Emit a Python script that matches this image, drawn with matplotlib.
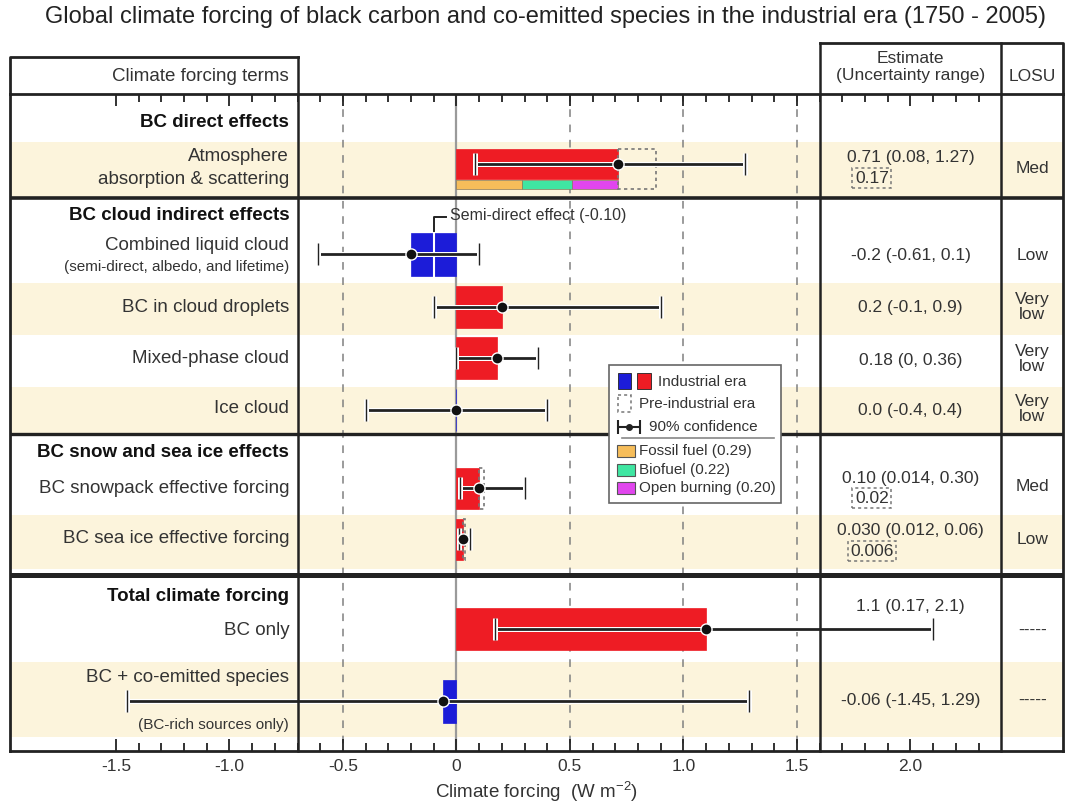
import matplotlib.pyplot as plt
import matplotlib.patheffects as pe
from matplotlib.patches import Rectangle
import numpy as np

plt.rcParams['font.family'] = ['Liberation Sans', 'DejaVu Sans']
plt.rcParams['mathtext.default'] = 'regular'

# Forcing terms, industrial era (W m-2)
terms = ["Atmosphere\nabsorption & scattering", "Combined liquid cloud", "BC in cloud droplets",
         "Mixed-phase cloud", "Ice cloud", "BC snowpack effective forcing",
         "BC sea ice effective forcing", "BC only", "BC + co-emitted species"]
sublabels = ["", "(semi-direct, albedo, and lifetime)", "", "", "", "", "", "",
             "(BC-rich sources only)"]
best = [0.71, -0.2, 0.2, 0.18, 0.0, 0.10, 0.030, 1.1, -0.06]
low = [0.08, -0.61, -0.1, 0.0, -0.4, 0.014, 0.012, 0.17, -1.45]
high = [1.27, 0.1, 0.9, 0.36, 0.4, 0.30, 0.06, 2.1, 1.29]
preindustrial = [0.17, None, None, None, None, 0.02, 0.006, None, None]
estimate_text = ["0.71 (0.08, 1.27)", "-0.2 (-0.61, 0.1)", "0.2 (-0.1, 0.9)", "0.18 (0, 0.36)",
                 "0.0 (-0.4, 0.4)", "0.10 (0.014, 0.30)", "0.030 (0.012, 0.06)",
                 "1.1 (0.17, 2.1)", "-0.06 (-1.45, 1.29)"]
preind_text = ["0.17", "", "", "", "", "0.02", "0.006", "", ""]
losu = ["Med", "Low", "Very\nlow", "Very\nlow", "Very\nlow", "Med", "Low", "-----", "-----"]
semi_direct = -0.10

# Atmospheric BC split by source
sources = ["Fossil fuel", "Biofuel", "Open burning"]
source_vals = [0.29, 0.22, 0.20]
source_colors = ["#f6bd5a", "#3fe6a2", "#e146ee"]

sections = ["BC direct effects", "BC cloud indirect effects",
            "BC snow and sea ice effects", "Total climate forcing"]

# layout (vertical unit = pixel rows, horizontal = W m-2)
row_y = [164, 254, 307, 358, 410, 488, 539, 629, 701]
bar_h = [30, 43, 42, 42, 42, 41, 41, 42, 43]
label_y = [168, 245, 307, 358, 408, 488, 538, 630, 677]
sublabel_y = [0, 267, 0, 0, 0, 0, 0, 0, 725]
est_y = [157, 255, 307, 360, 410, 478, 530, 606, 700]
preind_y = [178, 0, 0, 0, 0, 498, 551, 0, 0]
losu_y = [168, 255, 307, 359, 409, 486, 539, 630, 700]
section_y = [122, 215, 452, 596]
bands = [(142, 197), (283, 335), (387, 433), (515, 569), (662, 737)]
rules = [(198, 2.6), (434, 2.4), (575, 3.6)]

X_MIN, X_MAX = -1.967, 2.672
COL_SPLIT, PLOT_END, LOSU_SPLIT = -0.70, 1.60, 2.40
LABEL_X = -0.737
EST_X = 2.0
LOSU_X = 2.536

RED = "#ee1c24"
BLUE = "#1c1cd8"
BEIGE = "#fcf4dc"
INK = "#222222"
TXT = "#333333"

fig = plt.figure(figsize=(10.65, 8.02), dpi=100)
ax = fig.add_axes([10 / 1065, 51 / 802, 1053 / 1065, 657 / 802])
ax.set_xlim(X_MIN, X_MAX)
ax.set_ylim(751, 94)
ax.set_yticks([])

for y0, y1 in bands:
    ax.axhspan(y0, y1, color=BEIGE, zorder=0, lw=0)

ax.vlines([-0.5, 0.5, 1.0, 1.5], 94, 751, colors="#808080", linestyles=(0, (5, 5)),
          lw=1.1, zorder=1)
ax.vlines(0, 94, 751, colors="#9a9a9a", lw=1.6, zorder=1)

for y, lw in rules:
    ax.plot([X_MIN, X_MAX], [y, y], color=INK, lw=lw, zorder=6, solid_capstyle="butt")

# bars
best_a = np.array(best)
colors = [RED if b > 0 else BLUE for b in best]
ax.barh(row_y, best, height=bar_h, color=colors, edgecolor=colors, lw=0.5, zorder=2)

# atmosphere bar split into sources
left = np.concatenate([[0], np.cumsum(source_vals)[:-1]])
ax.barh(184.5, source_vals, left=left, height=9, color=source_colors,
        edgecolor="#8a7a5a", lw=0.5, zorder=2)

# pre-industrial extension
for i, p in enumerate(preindustrial):
    if p is None:
        continue
    top = row_y[i] - bar_h[i] / 2
    h = bar_h[i] + (10 if i == 0 else 0)
    ax.add_patch(Rectangle((best[i], top), p, h, fill=False, ls=(0, (2, 2)),
                           ec="#777777", lw=1.2, zorder=2.5))

# semi-direct part of the liquid cloud bar
sy_top = row_y[1] - bar_h[1] / 2
ax.plot([semi_direct, semi_direct], [sy_top, sy_top + bar_h[1]], color="white", lw=1.5, zorder=3)
ax.plot([semi_direct, semi_direct, -0.045], [sy_top - 2, 217, 217], color=INK, lw=1.4, zorder=5)
ax.text(-0.03, 215, "Semi-direct effect (-0.10)", fontsize=11.5, color=TXT,
        ha="left", va="center", zorder=5)

# 90% confidence ranges
xerr = [best_a - np.array(low), np.array(high) - best_a]
eb = ax.errorbar(best, row_y, xerr=xerr, fmt="o", color=INK, ms=8, mfc="#111111",
                 mec="white", mew=1.0, capsize=8, capthick=2, elinewidth=2, zorder=4)
halo = [pe.withStroke(linewidth=3.6, foreground="white")]
for cl in eb[1]:
    cl.set_path_effects(halo)
for lc in eb[2]:
    lc.set_path_effects(halo)

# left column labels
for i, t in enumerate(terms):
    ax.text(LABEL_X, label_y[i], t, ha="right", va="center", fontsize=13.5, color=TXT,
            multialignment="right", linespacing=1.45, zorder=5)
    if sublabels[i]:
        ax.text(LABEL_X, sublabel_y[i], sublabels[i], ha="right", va="center",
                fontsize=11, color=TXT, zorder=5)
for s, y in zip(sections, section_y):
    ax.text(LABEL_X, y, s, ha="right", va="center", fontsize=13.5, fontweight="bold",
            color="#111111", zorder=5)

# estimate and LOSU columns
for i in range(len(terms)):
    ax.text(EST_X, est_y[i], estimate_text[i], ha="center", va="center", fontsize=12.5,
            color=TXT, zorder=5)
    if preind_text[i]:
        ax.text(1.83, preind_y[i], preind_text[i], ha="center", va="center", fontsize=12.5,
                color=TXT, zorder=5,
                bbox=dict(boxstyle="square,pad=0.15", fc="none", ec="#777777", ls=(0, (2, 2)),
                          lw=1.1))
    ax.text(LOSU_X, losu_y[i], losu[i], ha="center", va="center", fontsize=12.5,
            color=TXT, linespacing=0.95, zorder=5)

# column dividers and header boxes
ax.plot([COL_SPLIT, COL_SPLIT], [57, 751], color=INK, lw=1.8, clip_on=False, zorder=6)
for x in (PLOT_END, LOSU_SPLIT):
    ax.plot([x, x], [43, 751], color=INK, lw=1.8, clip_on=False, zorder=6)
ax.plot([X_MIN, X_MIN, COL_SPLIT], [94, 57, 57], color=INK, lw=2, clip_on=False, zorder=6)
ax.plot([PLOT_END, X_MAX, X_MAX], [43, 43, 94], color=INK, lw=2, clip_on=False, zorder=6)
ax.text(LABEL_X, 76, "Climate forcing terms", ha="right", va="center", fontsize=13.5,
        color=TXT, clip_on=False)
ax.text(EST_X, 67, "Estimate\n(Uncertainty range)", ha="center", va="center", fontsize=12.5,
        color=TXT, linespacing=1.1, clip_on=False)
ax.text(LOSU_X, 76, "LOSU", ha="center", va="center", fontsize=12.5, color=TXT, clip_on=False)

# legend
ax.add_patch(Rectangle((0.67, 365), 0.76, 138, fc="white", ec="#666666", lw=1.2, zorder=7))
ax.add_patch(Rectangle((0.71, 373), 0.06, 16, fc=BLUE, ec=INK, lw=0.6, zorder=8))
ax.add_patch(Rectangle((0.795, 373), 0.06, 16, fc=RED, ec=INK, lw=0.6, zorder=8))
ax.text(0.887, 382, "Industrial era", fontsize=11, color=TXT, va="center", zorder=8)
ax.add_patch(Rectangle((0.71, 395), 0.06, 17, fill=False, ec="#777777", ls=(0, (2, 2)),
                       lw=1.1, zorder=8))
ax.text(0.805, 404, "Pre-industrial era", fontsize=11, color=TXT, va="center", zorder=8)
ax.errorbar([0.76], [427], xerr=[[0.05], [0.05]], fmt="o", color=INK, ms=4, capsize=5,
            capthick=1.5, elinewidth=1.5, zorder=8)
ax.text(0.848, 427, "90% confidence", fontsize=11, color=TXT, va="center", zorder=8)
ax.plot([0.728, 1.40], [438, 438], color="#888888", lw=1.2, zorder=8)
for k, (name, v, c) in enumerate(zip(sources, source_vals, source_colors)):
    yy = 451 + 18.5 * k
    ax.add_patch(Rectangle((0.705, yy - 6), 0.083, 12, fc=c, ec="#555555", lw=0.8, zorder=8))
    ax.text(0.805, yy, f"{name} ({v:.2f})", fontsize=11, color=TXT, va="center", zorder=8)

# axis ticks and labels
major = [-1.5, -1.0, -0.5, 0, 0.5, 1.0, 1.5, 2.0]
ax.set_xticks(major, ["-1.5", "-1.0", "-0.5", "0", "0.5", "1.0", "1.5", "2.0"])
minor = [round(v, 1) for v in np.arange(-1.5, 2.31, 0.1) if round(v, 1) not in major]
ax.set_xticks(minor, minor=True)
ax.tick_params(which="both", direction="in", top=True, bottom=True, color=INK, width=1.3,
               labelsize=12.5, labelcolor=TXT, pad=6)
ax.tick_params(which="major", length=8.5)
ax.tick_params(which="minor", length=6)
for sp in ax.spines.values():
    sp.set_linewidth(2)
    sp.set_color(INK)
ax.set_xlabel("Climate forcing  (W m$^{-2}$)", fontsize=13.5, color=TXT, labelpad=4)

fig.text(0.512, 1 - 17 / 802,
         "Global climate forcing of black carbon and co-emitted species in the industrial era (1750 - 2005)",
         ha="center", va="center", fontsize=17, color=INK)

fig.savefig("out.png", dpi=100)
